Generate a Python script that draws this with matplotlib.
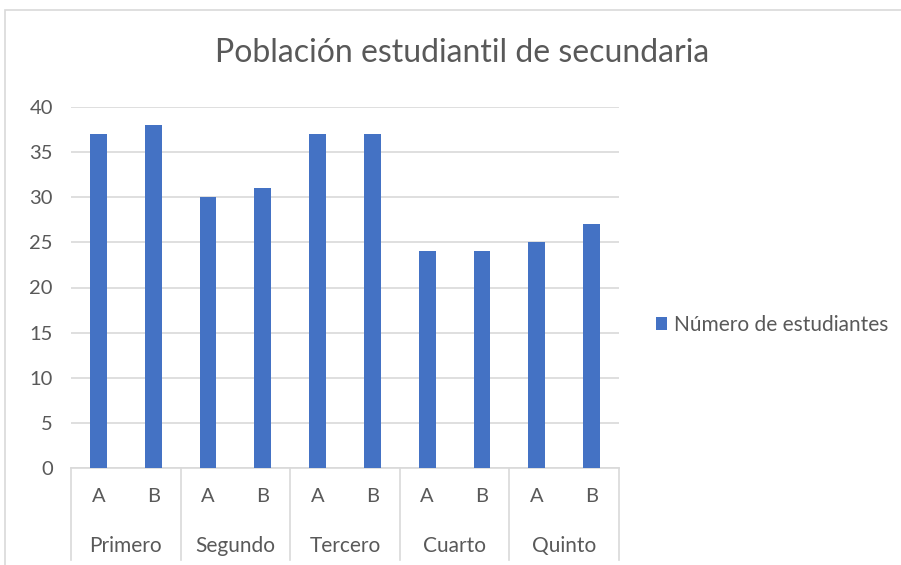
import matplotlib
matplotlib.use("Agg")
import matplotlib.pyplot as plt
from matplotlib.patches import Rectangle
from matplotlib.transforms import blended_transform_factory

groups = ["Primero", "Segundo", "Tercero", "Cuarto", "Quinto"]
sections = ["A", "B"]
values = [37, 38, 30, 31, 37, 37, 24, 24, 25, 27]
series_name = "Número de estudiantes"

BLUE = "#4472C4"
TXT = "#595959"
GRID = "#D9D9D9"
W, H = 901, 565

plt.rcParams["font.family"] = ["Lato", "DejaVu Sans"]

fig = plt.figure(figsize=(W / 100, H / 100), dpi=100)
ax = fig.add_axes([71 / W, 1 - 468 / H, (619 - 71) / W, (468 - 107) / H])

labels = [s for g in groups for s in sections]
xs = list(range(len(labels)))
bars = ax.bar(xs, values, width=0.31, color=BLUE, zorder=3, label=series_name)

ax.set_xlim(-0.5, len(labels) - 0.5)
ax.set_ylim(0, 40)
ax.set_yticks(range(0, 41, 5))
ax.tick_params(axis="y", length=0, pad=13, labelsize=14.5, labelcolor=TXT)
ax.set_xticks([])
ax.yaxis.grid(True, color=GRID, linewidth=1.2, zorder=0)
for s in ax.spines.values():
    s.set_visible(False)

# category axis: baseline, sub labels, group labels, separators
tr = blended_transform_factory(ax.transData, ax.transAxes)
ax.plot([-0.5, len(labels) - 0.5], [0, 0], transform=tr, color=GRID,
        linewidth=1.2, clip_on=False, zorder=2)
for i in range(len(groups) + 1):
    x = i * len(sections) - 0.5
    ax.plot([x, x], [0, -0.255], transform=tr, color=GRID, linewidth=1.2,
            clip_on=False)
for x, lab in zip(xs, labels):
    ax.text(x, -0.08, lab, transform=tr, ha="center", va="center",
            fontsize=14.5, color=TXT)
for i, g in enumerate(groups):
    x = i * len(sections) + (len(sections) - 1) / 2
    ax.text(x, -0.216, g, transform=tr, ha="center", va="center",
            fontsize=15, color=TXT)

fig.text(462 / W, 1 - 53 / H, "Población estudiantil de secundaria",
         ha="center", va="center", fontsize=23, color=TXT)

ax.legend(loc="center left", bbox_to_anchor=(656 / W, 1 - 325 / H),
          bbox_transform=fig.transFigure, frameon=False, fontsize=15,
          labelcolor=TXT, handlelength=0.55, handleheight=0.55,
          handletextpad=0.3, borderaxespad=0, borderpad=0)

fig.patches.append(Rectangle((5 / W, -0.1), 1.2, 1 - 10 / H + 0.1,
                             transform=fig.transFigure, fill=False,
                             edgecolor=GRID, linewidth=1.2))

fig.savefig("out.png", dpi=100)
